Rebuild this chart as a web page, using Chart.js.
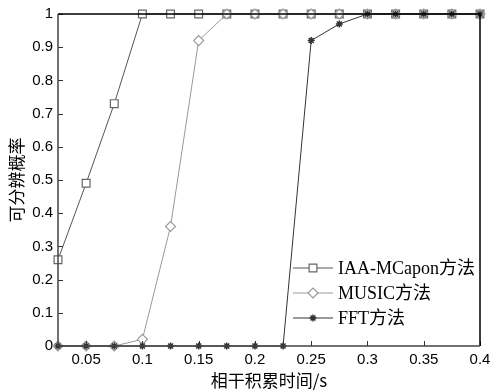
<!DOCTYPE html>
<html>
<head>
<meta charset="utf-8">
<script src="https://cdn.jsdelivr.net/npm/chart.js@4.4.0/dist/chart.umd.min.js"></script>
<style>
  body { margin: 0; background: #fff; }
  canvas { display: block; }
</style>
</head>
<body>
<canvas id="chart" width="490" height="392"></canvas>
<script>
// coherent integration time (s)
const times = [0.025, 0.05, 0.075, 0.1, 0.125, 0.15, 0.175, 0.2, 0.225, 0.25, 0.275, 0.3, 0.325, 0.35, 0.375, 0.4];
// resolution probability per method
const iaaMcapon = [0.26, 0.49, 0.73, 1, 1, 1, 1, 1, 1, 1, 1, 1, 1, 1, 1, 1];
const music     = [0, 0, 0, 0.02, 0.36, 0.92, 1, 1, 1, 1, 1, 1, 1, 1, 1, 1];
const fft       = [0, 0, 0, 0, 0, 0, 0, 0, 0, 0.92, 0.97, 1, 1, 1, 1, 1];

const xTicks = [0.05, 0.1, 0.15, 0.2, 0.25, 0.3, 0.35, 0.4];
const yTicks = [0, 0.1, 0.2, 0.3, 0.4, 0.5, 0.6, 0.7, 0.8, 0.9, 1];

const seriesLabels = ["IAA-MCapon方法", "MUSIC方法", "FFT方法"];

const toPoints = (ys) => ys.map((y, i) => ({ x: times[i], y: y }));

// ticks pointing into the plot + box, like the matlab figure
const boxPlugin = {
    id: "box",
    afterDraw(chart) {
        const ctx = chart.ctx;
        const a = chart.chartArea;
        const xs = chart.scales.x, ys = chart.scales.y;
        ctx.save();
        ctx.lineWidth = 1;
        ctx.strokeStyle = "#333";
        ctx.beginPath();
        xTicks.forEach(v => {
            const px = Math.round(xs.getPixelForValue(v)) + 0.5;
            ctx.moveTo(px, a.bottom);
            ctx.lineTo(px, a.bottom - 5);
        });
        yTicks.forEach(v => {
            const py = Math.round(ys.getPixelForValue(v)) + 0.5;
            ctx.moveTo(a.left, py);
            ctx.lineTo(a.left + 5, py);
        });
        ctx.stroke();

        ctx.lineWidth = 1.5;
        ctx.strokeStyle = "#000";
        ctx.beginPath();
        ctx.moveTo(a.left, a.top);
        ctx.lineTo(a.right, a.top);
        ctx.lineTo(a.right, a.bottom);
        ctx.stroke();
        ctx.strokeStyle = "#444";
        ctx.beginPath();
        ctx.moveTo(a.left, a.top);
        ctx.lineTo(a.left, a.bottom);
        ctx.lineTo(a.right, a.bottom);
        ctx.stroke();
        ctx.restore();
    }
};

// drawn above the series, so it goes after the box
const legendPlugin = {
    id: "boxLegend",
    afterDraw(chart) {
        const ctx = chart.ctx;
        ctx.save();
        chart.data.datasets.forEach((ds, i) => {
            const y = 268 + i * 25;
            ctx.strokeStyle = ds.borderColor;
            ctx.lineWidth = 1;
            ctx.beginPath();
            ctx.moveTo(293, y);
            ctx.lineTo(333, y);
            ctx.stroke();
            ctx.fillStyle = "#fff";
            ctx.strokeStyle = ds.pointBorderColor;
            ctx.lineWidth = ds.pointBorderWidth;
            Chart.helpers.drawPoint(ctx, {
                pointStyle: ds.pointStyle,
                rotation: 0,
                radius: ds.pointRadius,
                borderWidth: ds.pointBorderWidth
            }, 313, y);
            ctx.fillStyle = "#000";
            ctx.font = "18px 'Liberation Serif', 'Noto Sans CJK SC'";
            ctx.textBaseline = "middle";
            ctx.fillText(ds.label, 338, y + 1);
        });
        ctx.restore();
    }
};

new Chart(document.getElementById("chart"), {
    type: "line",
    data: {
        datasets: [
            {
                label: seriesLabels[0],
                data: toPoints(iaaMcapon),
                borderColor: "#555",
                borderWidth: 1,
                pointStyle: "rect",
                pointRadius: 5.5,
                pointBorderColor: "#666",
                pointBackgroundColor: "#fff",
                pointBorderWidth: 1.2,
                order: 2,
                clip: false
            },
            {
                label: seriesLabels[1],
                data: toPoints(music),
                borderColor: "#999",
                borderWidth: 1,
                pointStyle: "rectRot",
                pointRadius: 5,
                pointBorderColor: "#999",
                pointBackgroundColor: "#fff",
                pointBorderWidth: 1.2,
                order: 1,
                clip: false
            },
            {
                label: seriesLabels[2],
                data: toPoints(fft),
                borderColor: "#333",
                borderWidth: 1,
                pointStyle: "star",
                pointRadius: 3.5,
                pointBorderColor: "#333",
                pointBackgroundColor: "#333",
                pointBorderWidth: 1.5,
                order: 0,
                clip: false
            }
        ]
    },
    options: {
        responsive: false,
        animation: false,
        devicePixelRatio: 1,
        layout: { padding: { top: 14, right: 10, left: 0, bottom: 0 } },
        plugins: {
            legend: { display: false },
            tooltip: { enabled: false }
        },
        scales: {
            x: {
                type: "linear",
                min: 0.025,
                max: 0.4,
                afterBuildTicks: (s) => { s.ticks = xTicks.map(v => ({ value: v })); },
                afterFit: (s) => { s.height = 46; s.paddingRight = 0; s.paddingLeft = 0; },
                grid: { display: false, drawTicks: false },
                border: { display: false },
                ticks: {
                    padding: 5,
                    color: "#000",
                    maxRotation: 0,
                    callback: (v) => String(v),
                    font: { family: "'Liberation Sans', Arial", size: 15 }
                },
                title: {
                    display: true,
                    text: "相干积累时间/s",
                    color: "#000",
                    padding: { top: 0, bottom: 1 },
                    font: { family: "'Noto Sans CJK SC'", size: 17 }
                }
            },
            y: {
                min: 0,
                max: 1,
                afterBuildTicks: (s) => { s.ticks = yTicks.map(v => ({ value: v })); },
                afterFit: (s) => { s.width = 58; s.paddingTop = 0; s.paddingBottom = 0; },
                grid: { display: false, drawTicks: false },
                border: { display: false },
                ticks: {
                    padding: 5,
                    color: "#000",
                    callback: (v) => String(v),
                    font: { family: "'Liberation Sans', Arial", size: 15 }
                },
                title: {
                    display: true,
                    text: "可分辨概率",
                    color: "#000",
                    padding: { top: 6, bottom: 0 },
                    font: { family: "'Noto Sans CJK SC'", size: 17 }
                }
            }
        }
    },
    plugins: [boxPlugin, legendPlugin]
});
</script>
</body>
</html>
